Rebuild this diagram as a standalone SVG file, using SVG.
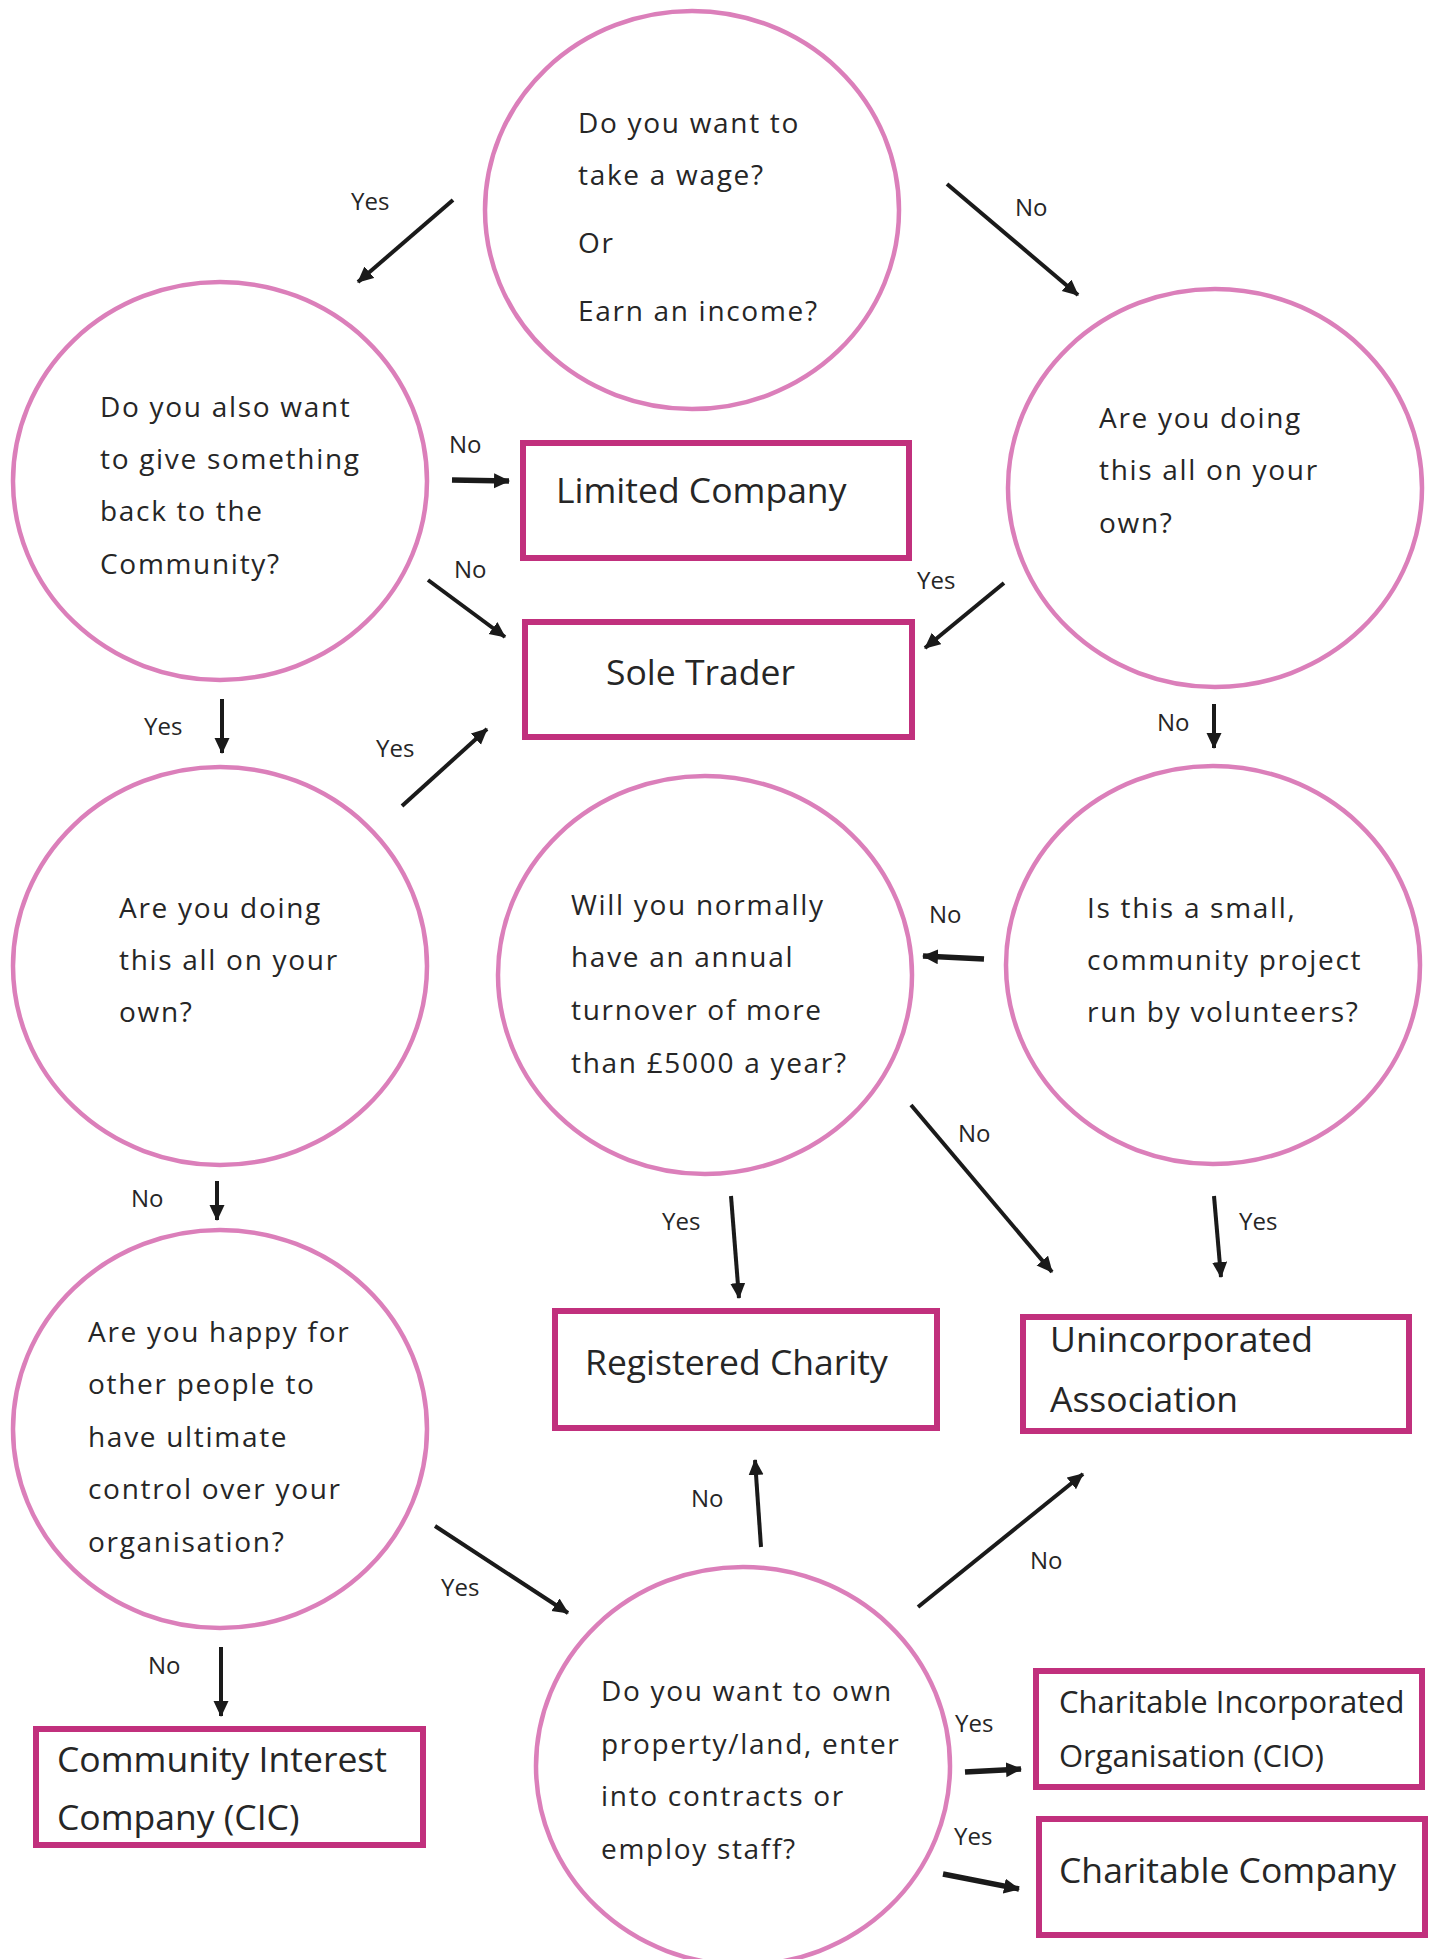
<svg xmlns="http://www.w3.org/2000/svg" width="1435" height="1959" viewBox="0 0 1435 1959">
<style>
.q{fill:#fff;stroke:#DB7FBA;stroke-width:4.5}
.b{fill:#fff;stroke:#C1307D;stroke-width:6}
.t{font-family:"Open Sans","Liberation Sans",Arial,sans-serif;font-size:28px;letter-spacing:1.7px;fill:#262626}
.bt{font-family:"Open Sans","Liberation Sans",Arial,sans-serif;font-size:35.5px;fill:#262626}
.st{font-family:"Open Sans","Liberation Sans",Arial,sans-serif;font-size:31px;fill:#262626}
.l{font-family:"Open Sans","Liberation Sans",Arial,sans-serif;font-size:24px;fill:#262626}
.a{stroke:#1a1a1a;stroke-width:4;fill:none;marker-end:url(#ah)}
.ab{stroke:#1a1a1a;stroke-width:5.5;fill:none;marker-end:url(#ah)}
</style>
<defs>
<marker id="ah" markerUnits="userSpaceOnUse" markerWidth="18" markerHeight="16" refX="15" refY="7.5" orient="auto">
<path d="M0,0 L16,7.5 L0,15 Z" fill="#1a1a1a"/>
</marker>
</defs>
<rect width="1435" height="1959" fill="#fff"/>

<g id="q-wage">
<ellipse class="q" cx="692" cy="210" rx="207" ry="199"/>
<text class="t" x="578" y="133">Do you want to</text>
<text class="t" x="578" y="185">take a wage?</text>
<text class="t" x="578" y="253">Or</text>
<text class="t" x="578" y="321">Earn an income?</text>
</g>

<g id="q-community">
<ellipse class="q" cx="220" cy="481" rx="207" ry="199"/>
<text class="t" x="100" y="417">Do you also want</text>
<text class="t" x="100" y="469">to give something</text>
<text class="t" x="100" y="521">back to the</text>
<text class="t" x="100" y="574">Community?</text>
</g>

<g id="q-own-right">
<ellipse class="q" cx="1215" cy="488" rx="207" ry="199"/>
<text class="t" x="1099" y="428">Are you doing</text>
<text class="t" x="1099" y="480">this all on your</text>
<text class="t" x="1099" y="533">own?</text>
</g>

<g id="q-own-left">
<ellipse class="q" cx="220" cy="966" rx="207" ry="199"/>
<text class="t" x="119" y="918">Are you doing</text>
<text class="t" x="119" y="970">this all on your</text>
<text class="t" x="119" y="1022">own?</text>
</g>

<g id="q-turnover">
<ellipse class="q" cx="705" cy="975" rx="207" ry="199"/>
<text class="t" x="571" y="915">Will you normally</text>
<text class="t" x="571" y="967">have an annual</text>
<text class="t" x="571" y="1020">turnover of more</text>
<text class="t" x="571" y="1073">than £5000 a year?</text>
</g>

<g id="q-small">
<ellipse class="q" cx="1213" cy="965" rx="207" ry="199"/>
<text class="t" x="1087" y="918">Is this a small,</text>
<text class="t" x="1087" y="970">community project</text>
<text class="t" x="1087" y="1022">run by volunteers?</text>
</g>

<g id="q-control">
<ellipse class="q" cx="220" cy="1429" rx="207" ry="199"/>
<text class="t" x="88" y="1342">Are you happy for</text>
<text class="t" x="88" y="1394">other people to</text>
<text class="t" x="88" y="1447">have ultimate</text>
<text class="t" x="88" y="1499">control over your</text>
<text class="t" x="88" y="1552">organisation?</text>
</g>

<g id="q-property">
<ellipse class="q" cx="743" cy="1766" rx="207" ry="199"/>
<text class="t" x="601" y="1701">Do you want to own</text>
<text class="t" x="601" y="1754">property/land, enter</text>
<text class="t" x="601" y="1806">into contracts or</text>
<text class="t" x="601" y="1859">employ staff?</text>
</g>

<g id="r-limited">
<rect class="b" x="523" y="443" width="386" height="115"/>
<text class="bt" x="556" y="503">Limited Company</text>
</g>

<g id="r-sole">
<rect class="b" x="525" y="622" width="387" height="115"/>
<text class="bt" x="606" y="685">Sole Trader</text>
</g>

<g id="r-charity">
<rect class="b" x="555" y="1311" width="382" height="117"/>
<text class="bt" x="585" y="1375">Registered Charity</text>
</g>

<g id="r-unincorporated">
<rect class="b" x="1023" y="1317" width="386" height="114"/>
<text class="bt" x="1050" y="1352">Unincorporated</text>
<text class="bt" x="1050" y="1412">Association</text>
</g>

<g id="r-cic">
<rect class="b" x="36" y="1729" width="387" height="116"/>
<text class="bt" x="57" y="1772">Community Interest</text>
<text class="bt" x="57" y="1830">Company (CIC)</text>
</g>

<g id="r-cio">
<rect class="b" x="1036" y="1671" width="386" height="116"/>
<text class="st" x="1059" y="1713">Charitable Incorporated</text>
<text class="st" x="1059" y="1767">Organisation (CIO)</text>
</g>

<g id="r-charitable-company">
<rect class="b" x="1039" y="1819" width="386" height="116"/>
<text class="bt" x="1059" y="1883">Charitable Company</text>
</g>

<g id="connectors">
<line class="a" x1="453" y1="200" x2="358" y2="282"/>
<text class="l" x="351" y="210">Yes</text>
<line class="a" x1="947" y1="184" x2="1078" y2="295"/>
<text class="l" x="1015" y="216">No</text>
<line class="ab" x1="452" y1="480" x2="509" y2="481"/>
<text class="l" x="449" y="453">No</text>
<line class="a" x1="428" y1="580" x2="505" y2="637"/>
<text class="l" x="454" y="578">No</text>
<line class="a" x1="1004" y1="583" x2="925" y2="648"/>
<text class="l" x="917" y="589">Yes</text>
<line class="a" x1="222" y1="699" x2="222" y2="753"/>
<text class="l" x="144" y="735">Yes</text>
<line class="a" x1="402" y1="806" x2="487" y2="729"/>
<text class="l" x="376" y="757">Yes</text>
<line class="a" x1="1214" y1="704" x2="1214" y2="748"/>
<text class="l" x="1157" y="731">No</text>
<line class="ab" x1="984" y1="959" x2="923" y2="956"/>
<text class="l" x="929" y="923">No</text>
<line class="a" x1="911" y1="1105" x2="1052" y2="1272"/>
<text class="l" x="958" y="1142">No</text>
<line class="a" x1="731" y1="1196" x2="739" y2="1298"/>
<text class="l" x="662" y="1230">Yes</text>
<line class="a" x1="1214" y1="1196" x2="1221" y2="1277"/>
<text class="l" x="1239" y="1230">Yes</text>
<line class="a" x1="217" y1="1181" x2="217" y2="1220"/>
<text class="l" x="131" y="1207">No</text>
<line class="a" x1="435" y1="1526" x2="568" y2="1613"/>
<text class="l" x="441" y="1596">Yes</text>
<line class="a" x1="221" y1="1647" x2="221" y2="1716"/>
<text class="l" x="148" y="1674">No</text>
<line class="a" x1="761" y1="1547" x2="755" y2="1460"/>
<text class="l" x="691" y="1507">No</text>
<line class="a" x1="918" y1="1607" x2="1083" y2="1474"/>
<text class="l" x="1030" y="1569">No</text>
<line class="ab" x1="965" y1="1772" x2="1021" y2="1769"/>
<text class="l" x="955" y="1732">Yes</text>
<line class="ab" x1="943" y1="1874" x2="1019" y2="1889"/>
<text class="l" x="954" y="1845">Yes</text>
</g>
</svg>
